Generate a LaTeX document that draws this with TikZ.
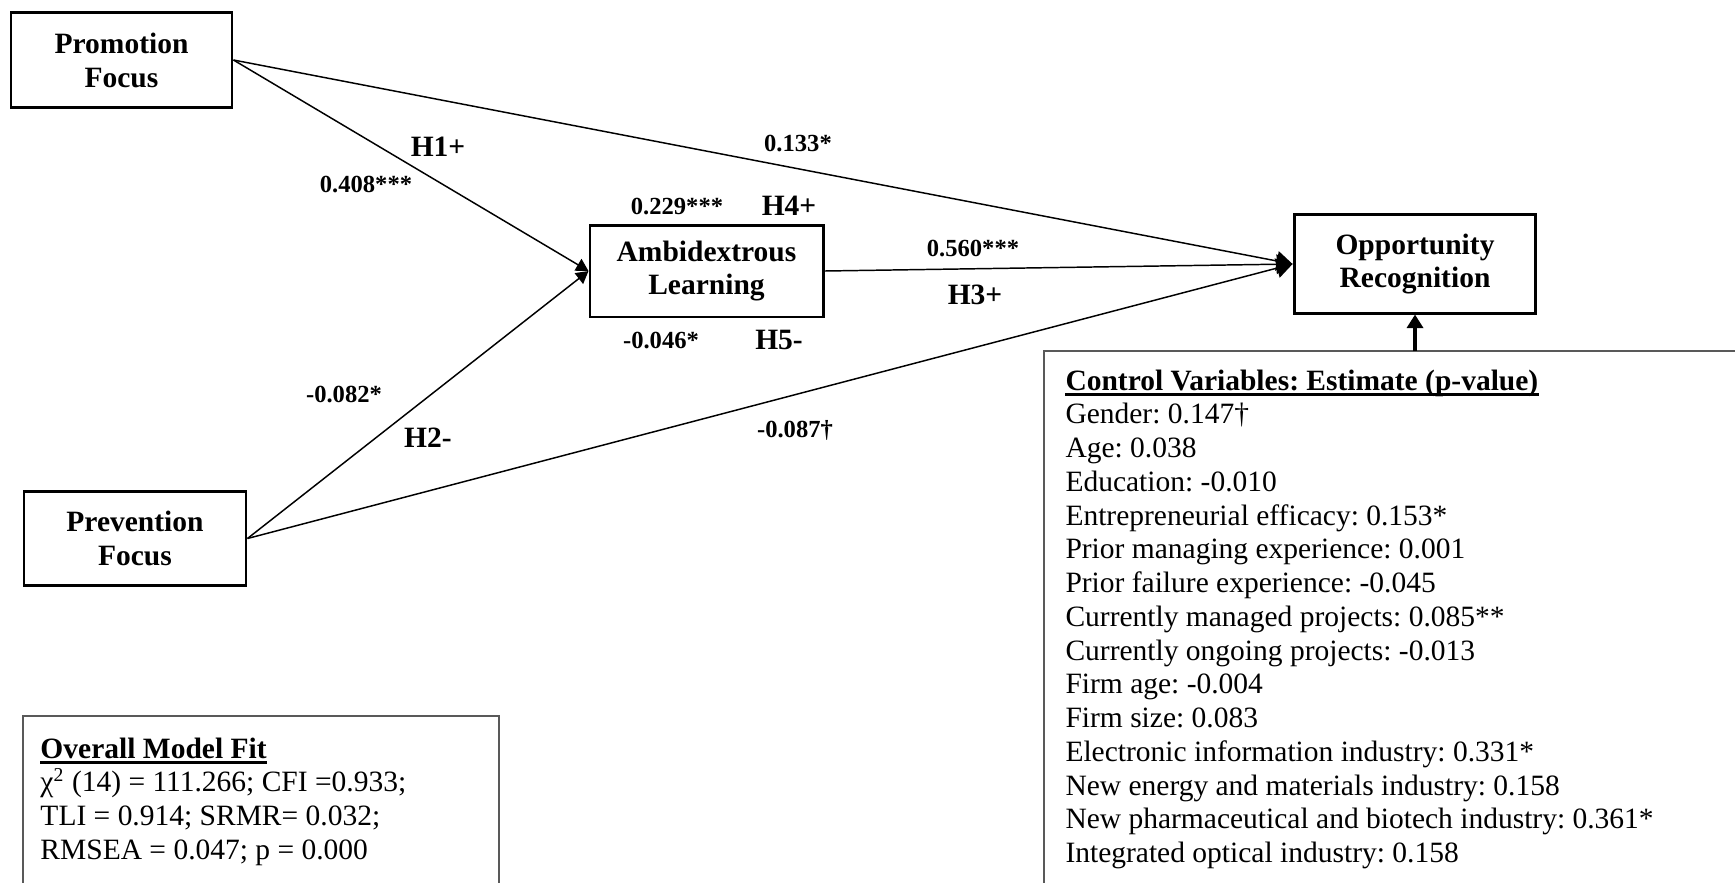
\documentclass[tikz,border=0pt]{standalone}
\usepackage{fontspec}
\setmainfont{Liberation Serif}
\frenchspacing
\usetikzlibrary{arrows.meta}

\begin{document}
\begin{tikzpicture}[x=0.4068pt, y=-0.4068pt,
		var/.style={draw, line width=1.2pt, align=center, inner sep=0pt, font=\fontsize{12pt}{13.8pt}\selectfont\bfseries},
		est/.style={inner sep=0pt, font=\fontsize{10pt}{12pt}\selectfont\bfseries},
		hyp/.style={inner sep=0pt, font=\fontsize{12pt}{14pt}\selectfont\bfseries},
		txt/.style={anchor=base west, inner sep=0pt, font=\fontsize{12pt}{13.8pt}\selectfont},
		frame/.style={draw=black!65, line width=0.8pt},
		uline/.style={line width=1.1pt},
		link/.style={line width=0.6pt, -{Triangle[length=6.5pt, width=8pt]}},
		inlink/.style={line width=0.6pt, -{Triangle[length=5pt, width=5.5pt]}},
		ctrl/.style={line width=1.6pt, -{Triangle[length=5.5pt, width=6.5pt]}}]
	\useasboundingbox (0,0) rectangle (1735,882);
	\clip (0,0) rectangle (1735,882);

	\node[var, minimum width=89.9pt, minimum height=39pt] (pro) at (121.5,60) {Promotion\\Focus};
	\node[var, minimum width=90.3pt, minimum height=38.6pt] (pre) at (135,538.5) {Prevention\\Focus};
	\node[var, minimum width=94.8pt, minimum height=37.4pt] (amb) at (706.5,271) {Ambidextrous\\Learning};
	\node[var, minimum width=98.4pt, minimum height=39.9pt] (opp) at (1415,264) {Opportunity\\Recognition};

	\draw[inlink] (pro.east) -- (amb.west);
	\draw[inlink] (pre.east) -- (amb.west);
	\draw[link] (pro.east) -- (opp.west);
	\draw[link] (amb.east) -- (opp.west);
	\draw[link] (pre.east) -- (opp.west);

	\node[hyp] (h1) at (438,147) {H1+};
	\node[est] (e1) at (366,184) {0.408***};
	\node[est] (e6) at (798,143) {0.133*};
	\node[est] (e4) at (677,206) {0.229***};
	\node[hyp] (h4) at (789,206) {H4+};
	\node[est] (e3) at (973,248) {0.560***};
	\node[hyp] (h3) at (975,295) {H3+};
	\node[est] (e5) at (661,340) {-0.046*};
	\node[hyp] (h5) at (779,340) {H5-};
	\node[est] (e2) at (344,394) {-0.082*};
	\node[hyp] (h2) at (428,438) {H2-};
	\node[est] (e7) at (795,430) {-0.087†};

	% control variables
	\draw[frame] (1044,900) -- (1044,351) -- (1760,351);
	\coordinate (cvtop) at (1415,351);
	\draw[ctrl] (cvtop) -- (opp.south);
	\node[txt] (cvhead) at (1065,390) {\textbf{Control Variables: Estimate (p-value)}};
	\draw[uline] ([yshift=-1.8pt]cvhead.base west) -- ([yshift=-1.8pt]cvhead.base east);
	\foreach [count=\i] \t in {Gender: 0.147†, Age: 0.038, Education: -0.010,
			Entrepreneurial efficacy: 0.153*, Prior managing experience: 0.001,
			Prior failure experience: -0.045, Currently managed projects: 0.085**,
			Currently ongoing projects: -0.013, Firm age: -0.004, Firm size: 0.083,
			Electronic information industry: 0.331*, New energy and materials industry: 0.158,
			New pharmaceutical and biotech industry: 0.361*, Integrated optical industry: 0.158}
		\node[txt] (cv\i) at (1065,390+33.75*\i) {\t};

	% model fit
	\draw[frame] (23,900) -- (23,716) -- (499,716) -- (499,900);
	\node[txt] (fithead) at (40,758) {\textbf{Overall Model Fit}};
	\draw[uline] ([yshift=-1.8pt]fithead.base west) -- ([yshift=-1.8pt]fithead.base east);
	\foreach [count=\i] \t in {χ\textsuperscript{2} (14) = 111.266; CFI =0.933;,
			TLI = 0.914; SRMR= 0.032;, RMSEA = 0.047; p = 0.000}
		\node[txt] (fit\i) at (40,758+33.75*\i) {\t};
\end{tikzpicture}
\end{document}
